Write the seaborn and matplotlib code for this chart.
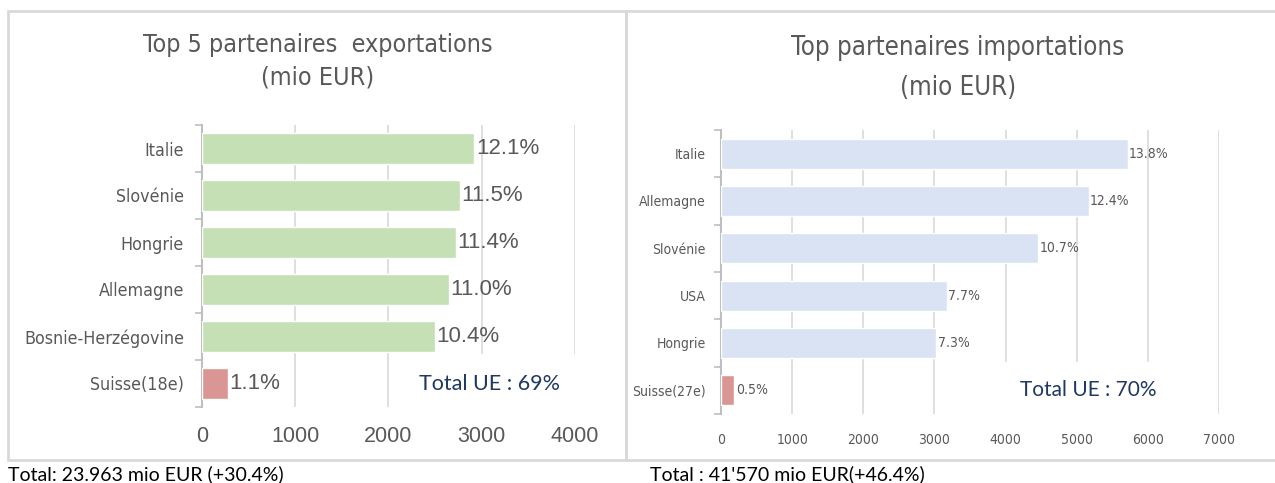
import seaborn as sns
import matplotlib.pyplot as plt
from matplotlib import font_manager as fm
from matplotlib.patches import Rectangle

# data
exp_partners = ['Italie', 'Slovénie', 'Hongrie', 'Allemagne', 'Bosnie-Herzégovine', 'Suisse(18e)']
exp_values = [2921, 2763, 2724, 2649, 2502, 280]
exp_shares = ['12.1%', '11.5%', '11.4%', '11.0%', '10.4%', '1.1%']
exp_ticks = [0, 1000, 2000, 3000, 4000]

imp_partners = ['Italie', 'Allemagne', 'Slovénie', 'USA', 'Hongrie', 'Suisse(27e)']
imp_values = [5716, 5169, 4462, 3174, 3029, 187]
imp_shares = ['13.8%', '12.4%', '10.7%', '7.7%', '7.3%', '0.5%']
imp_ticks = [0, 1000, 2000, 3000, 4000, 5000, 6000, 7000]

W, H = 1275, 483
GREEN = '#C5E0B4'
BLUE = '#DAE3F3'
RED = '#D99694'
GREY = '#595959'
NAVY = '#1F3864'

sns.set_theme(style='white')

# look for a condensed / narrow face, the reference uses one
narrow_file = None
for f in fm.fontManager.ttflist:
    low = f.fname.lower()
    if ('condensed' in low or 'narrow' in low) and 'bold' not in low \
            and 'oblique' not in low and 'italic' not in low and 'light' not in low:
        narrow_file = f.fname
        if 'dejavu' in low or 'liberation' in low:
            break


def narrow(size):
    if narrow_file:
        return fm.FontProperties(fname=narrow_file, size=size)
    return fm.FontProperties(family=['Liberation Sans', 'DejaVu Sans'], size=size * 0.9)


def sans(size):
    return fm.FontProperties(family=['Liberation Sans', 'DejaVu Sans'], size=size)


def cal(size):
    return fm.FontProperties(family=['Lato', 'DejaVu Sans'], size=size)


fig = plt.figure(figsize=(W / 100, H / 100), dpi=100)


def px_axes(x0, y0, x1, y1):
    return fig.add_axes([x0 / W, 1 - y1 / H, (x1 - x0) / W, (y1 - y0) / H])


def draw_panel(ax, names, values, shares, ticks, main_color, tick_fp, ylab_fp,
               lab_fp, ylab_pad, ue_text, ue_x, ue_fp):
    colors = [main_color] * (len(names) - 1) + [RED]
    sns.barplot(x=values, y=names, hue=names, palette=colors, legend=False,
                width=0.64, saturation=1, ax=ax, zorder=3)
    for cont, lab in zip(ax.containers, shares):
        ax.bar_label(cont, labels=[lab], padding=1, color=GREY, fontproperties=lab_fp)
    ax.set_xlim(ticks[0], ticks[-1])
    ax.set_ylim(len(names) - 0.5, -0.5)
    ax.set_xticks(ticks)
    ax.set_xticklabels([str(t) for t in ticks], fontproperties=tick_fp, color=GREY)
    ax.set_yticks(range(len(names)))
    ax.set_yticklabels(names, fontproperties=ylab_fp, color=GREY)
    ax.set_yticks([i - 0.5 for i in range(len(names) + 1)], minor=True)
    ax.tick_params(axis='y', which='major', length=0, pad=ylab_pad)
    ax.tick_params(axis='y', which='minor', length=5, width=1.2, color='#BFBFBF', left=True)
    ax.tick_params(axis='x', length=0, pad=14)
    ax.xaxis.grid(True, color='#D9D9D9', lw=1.2, zorder=0)
    ax.set_axisbelow(True)
    for s in ['top', 'right', 'bottom']:
        ax.spines[s].set_visible(False)
    ax.spines['left'].set_color('#BFBFBF')
    ax.spines['left'].set_linewidth(1.5)
    ax.set_xlabel('')
    ax.set_ylabel('')
    ax.text(ue_x, len(names) - 1, ue_text, ha='left', va='center', color=NAVY,
            fontproperties=ue_fp, zorder=5,
            bbox=dict(boxstyle='square,pad=0.9', fc='white', ec='none'))


ax1 = px_axes(202, 125, 575, 407)
draw_panel(ax1, exp_partners, exp_values, exp_shares, exp_ticks, GREEN,
           sans(15.5), narrow(12.8), sans(16), 13, 'Total UE : 69%', 2330, cal(15.5))

ax2 = px_axes(721, 130, 1219, 414)
draw_panel(ax2, imp_partners, imp_values, imp_shares, imp_ticks, BLUE,
           narrow(10), narrow(10), narrow(10), 11, 'Total UE : 70%', 4200, cal(15))

# panel frames
for x0, x1 in [(8, 626), (626, 1290)]:
    fig.patches.append(Rectangle((x0 / W, 1 - 460 / H), (x1 - x0) / W, 449 / H,
                                 transform=fig.transFigure, fill=False,
                                 ec='#D9D9D9', lw=2, zorder=0))

# titles
fig.text(318 / W, 1 - 45 / H, 'Top 5 partenaires  exportations', ha='center', va='center',
         color=GREY, fontproperties=narrow(18))
fig.text(318 / W, 1 - 78 / H, '(mio EUR)', ha='center', va='center',
         color=GREY, fontproperties=narrow(18))
fig.text(958 / W, 1 - 48 / H, 'Top partenaires importations', ha='center', va='center',
         color=GREY, fontproperties=narrow(18.5))
fig.text(958 / W, 1 - 88 / H, '(mio EUR)', ha='center', va='center',
         color=GREY, fontproperties=narrow(18.5))

# footnotes
fig.text(8 / W, 1 - 474 / H, 'Total: 23.963 mio EUR (+30.4%)', ha='left', va='center',
         color='black', fontproperties=cal(14))
fig.text(650 / W, 1 - 474 / H, "Total : 41'570 mio EUR(+46.4%)", ha='left', va='center',
         color='black', fontproperties=cal(14))

fig.savefig('out.png', dpi=100)
